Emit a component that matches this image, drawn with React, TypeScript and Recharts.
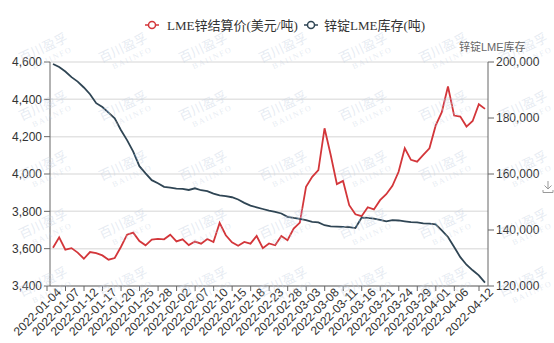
import { LineChart, Line, XAxis, YAxis, CartesianGrid } from 'recharts'

// trading days, Jan 4 - Apr 12 2022
const dates = [
  '2022-01-04', '2022-01-05', '2022-01-06', '2022-01-07', '2022-01-10', '2022-01-11', '2022-01-12',
  '2022-01-13', '2022-01-14', '2022-01-17', '2022-01-18', '2022-01-19', '2022-01-20', '2022-01-21',
  '2022-01-24', '2022-01-25', '2022-01-26', '2022-01-27', '2022-01-28', '2022-01-31',
  '2022-02-01', '2022-02-02', '2022-02-03', '2022-02-04', '2022-02-07', '2022-02-08', '2022-02-09',
  '2022-02-10', '2022-02-11', '2022-02-14', '2022-02-15', '2022-02-16', '2022-02-17', '2022-02-18',
  '2022-02-21', '2022-02-22', '2022-02-23', '2022-02-24', '2022-02-25', '2022-02-28',
  '2022-03-01', '2022-03-02', '2022-03-03', '2022-03-04', '2022-03-07', '2022-03-08', '2022-03-09',
  '2022-03-10', '2022-03-11', '2022-03-14', '2022-03-15', '2022-03-16', '2022-03-17', '2022-03-18',
  '2022-03-21', '2022-03-22', '2022-03-23', '2022-03-24', '2022-03-25', '2022-03-28', '2022-03-29',
  '2022-03-30', '2022-03-31', '2022-04-01', '2022-04-04', '2022-04-05', '2022-04-06', '2022-04-07',
  '2022-04-08', '2022-04-11', '2022-04-12',
]

// LME锌结算价 (USD/t)
const settlePrice = [
  3605, 3661, 3595, 3603, 3579, 3546, 3582, 3576, 3564, 3541, 3550, 3609, 3675, 3686,
  3641, 3618, 3648, 3652, 3650, 3675, 3639, 3650, 3619, 3638, 3627, 3652, 3636, 3738,
  3672, 3634, 3616, 3636, 3627, 3668, 3603, 3628, 3618, 3668, 3645, 3708, 3740, 3931,
  3985, 4021, 4245, 4102, 3946, 3963, 3833, 3784, 3774, 3822, 3810, 3860, 3892, 3937,
  4012, 4138, 4076, 4066, 4102, 4138, 4259, 4331, 4469, 4313, 4308, 4254, 4284, 4374, 4349,
]

// 锌锭LME库存 (t)
const stock = [
  199300, 198200, 196600, 194600, 193000, 190900, 188500, 185300, 183900, 181900, 179900,
  175700, 172100, 168000, 162800, 160200, 157800, 156700, 155400, 155100, 154800, 154700,
  154300, 154900, 154200, 153900, 153000, 152400, 152100, 151700, 150900, 149700, 148700,
  148100, 147500, 146900, 146500, 145900, 144700, 144300, 144000, 143500, 142900, 142700,
  141700, 141300, 141200, 141100, 141000, 140700, 144400, 144300, 144100, 143600, 143100,
  143500, 143400, 143100, 142800, 142700, 142400, 142300, 142000, 139900, 137500, 133900,
  130300, 127600, 125600, 123800, 121200,
]

const tickLabels = [
  '2022-01-04', '2022-01-07', '2022-01-12', '2022-01-17', '2022-01-20', '2022-01-25',
  '2022-01-28', '2022-02-02', '2022-02-07', '2022-02-10', '2022-02-15', '2022-02-18',
  '2022-02-23', '2022-02-28', '2022-03-03', '2022-03-08', '2022-03-11', '2022-03-16',
  '2022-03-21', '2022-03-24', '2022-03-29', '2022-04-01', '2022-04-06', '2022-04-12',
]

const priceTicks = [3400, 3600, 3800, 4000, 4200, 4400, 4600]
const stockTicks = [120000, 140000, 160000, 180000, 200000]

const RED = '#d3363a'
const NAVY = '#2f4554'
const FONT = 'Arial, "Liberation Sans", "Noto Sans CJK SC", sans-serif'

const rows = dates.map((d, i) => ({ date: d, price: settlePrice[i], stock: stock[i] }))

const fmt = (v: number) => v.toLocaleString('en-US')

function DateTick({ x, y, payload }: any) {
  return (
    <g>
      <line x1={x - 6} x2={x - 6} y1={y} y2={y + 5} stroke="#666" />
      <text
        x={x + 9}
        y={y + 7}
        textAnchor="end"
        fontSize={12}
        fill="#333"
        fontFamily={FONT}
        transform={`rotate(-45 ${x + 9} ${y + 7})`}
      >
        {payload.value}
      </text>
    </g>
  )
}

function LegendIcon({ color }: { color: string }) {
  return (
    <svg width={14} height={10} style={{ display: 'block' }}>
      <line x1={0} y1={5} x2={14} y2={5} stroke={color} strokeWidth={1.5} />
      <circle cx={7} cy={5} r={3.5} fill="#fff" stroke={color} strokeWidth={1.5} />
    </svg>
  )
}

function Watermarks() {
  const cols = [45, 125, 205, 285, 365, 445, 525]
  const rowsY = [52, 110, 170, 228, 286]
  return (
    <svg width={554} height={343} style={{ position: 'absolute', left: 0, top: 0, pointerEvents: 'none' }}>
      {rowsY.map((ry) =>
        cols.map((cx) => (
          <g key={`${cx}-${ry}`} transform={`rotate(-25 ${cx} ${ry})`} fill="#c8d3e3" fillOpacity={0.45}>
            <text x={cx} y={ry} textAnchor="middle" fontSize={13} fontFamily={FONT}>百川盈孚</text>
            <text x={cx + 4} y={ry + 11} textAnchor="middle" fontSize={8} letterSpacing={1.5} fontFamily="Liberation Serif, serif">BAIINFO</text>
          </g>
        ))
      )}
    </svg>
  )
}

export default function App() {
  return (
    <div style={{ position: 'absolute', left: 0, top: 0, width: 554, height: 343, background: '#fff', fontFamily: FONT, overflow: 'hidden' }}>
      <LineChart width={554} height={343} data={rows} margin={{ top: 62, right: 0, bottom: 0, left: 0 }}>
        <CartesianGrid yAxisId="left" vertical={false} stroke="#e3e3e3" strokeWidth={1.5} />
        <XAxis
          dataKey="date"
          ticks={tickLabels}
          interval={0}
          padding={{ left: 3, right: 3 }}
          height={57}
          tickSize={0}
          tickMargin={0}
          tickLine={false}
          axisLine={{ stroke: '#666' }}
          tick={<DateTick />}
        />
        <YAxis
          yAxisId="left"
          domain={[3400, 4600]}
          ticks={priceTicks}
          width={50}
          tickFormatter={fmt}
          axisLine={{ stroke: '#666' }}
          tickLine={{ stroke: '#666' }}
          tick={{ fontSize: 12, fill: '#333', fontFamily: FONT }}
        />
        <YAxis
          yAxisId="right"
          orientation="right"
          domain={[120000, 200000]}
          ticks={stockTicks}
          width={66}
          tickFormatter={fmt}
          axisLine={{ stroke: '#666' }}
          tickLine={{ stroke: '#666' }}
          tick={{ fontSize: 12, fill: '#333', fontFamily: FONT }}
        />
        <Line yAxisId="left" type="linear" dataKey="price" stroke={RED} strokeWidth={1.8} dot={false} isAnimationActive={false} />
        <Line yAxisId="right" type="linear" dataKey="stock" stroke={NAVY} strokeWidth={1.8} dot={false} isAnimationActive={false} />
      </LineChart>

      <Watermarks />

      {/* legend */}
      <div style={{ position: 'absolute', left: 145, top: 15, display: 'flex', alignItems: 'center', gap: 8, fontSize: 13, color: '#333', fontFamily: '"Liberation Serif", "Noto Sans CJK SC", serif' }}>
        <LegendIcon color={RED} />
        <span>LME锌结算价(美元/吨)</span>
      </div>
      <div style={{ position: 'absolute', left: 304, top: 15, display: 'flex', alignItems: 'center', gap: 6, fontSize: 13, color: '#333', fontFamily: '"Liberation Serif", "Noto Sans CJK SC", serif' }}>
        <LegendIcon color={NAVY} />
        <span>锌锭LME库存(吨)</span>
      </div>

      {/* right axis name */}
      <div style={{ position: 'absolute', left: 459, top: 38, fontSize: 11, color: '#666' }}>锌锭LME库存</div>

      {/* download icon */}
      <svg width={12} height={14} style={{ position: 'absolute', left: 542, top: 180 }}>
        <path d="M6 1 V9 M2.5 5.5 L6 9 L9.5 5.5 M1 10 V12.5 H11 V10" fill="none" stroke="#999" strokeWidth={1} />
      </svg>
    </div>
  )
}
